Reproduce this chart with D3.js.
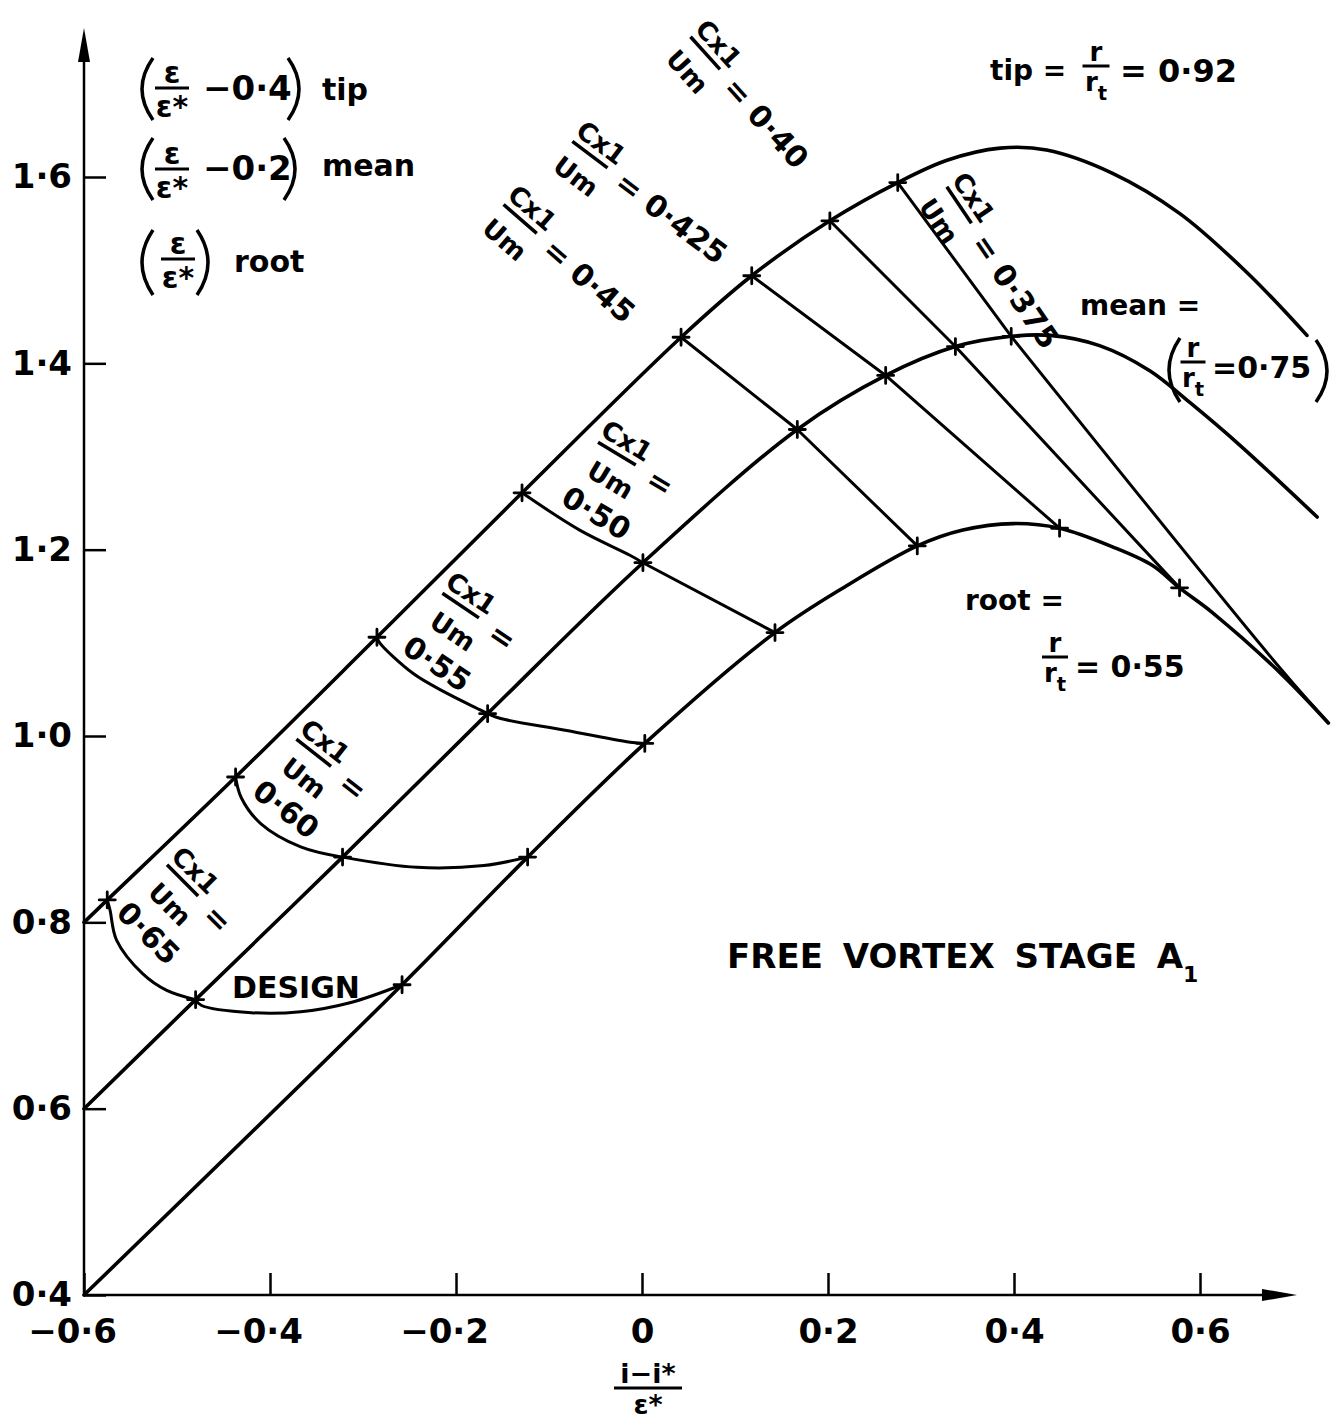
<!DOCTYPE html>
<html>
<head>
<meta charset="utf-8">
<script src="https://cdn.jsdelivr.net/npm/d3@7"></script>
<style>
body { margin: 0; background: #fff; }
svg { display: block; }
text { font-family: "DejaVu Sans", sans-serif; font-weight: bold; fill: #000; }
</style>
</head>
<body>
<svg width="1343" height="1426"></svg>
<script>
// axis ticks
const xTicks = [-0.6, -0.4, -0.2, 0, 0.2, 0.4, 0.6];
const yTicks = [0.4, 0.6, 0.8, 1.0, 1.2, 1.4, 1.6];

// the three blade sections, (i-i*)/e* against shifted e/e*
const tipCurve = [[-0.6, 0.80], [-0.575, 0.824], [-0.437, 0.956], [-0.285, 1.106], [-0.129, 1.261],
    [0.042, 1.428], [0.118, 1.494], [0.202, 1.553], [0.275, 1.594], [0.328, 1.618], [0.385, 1.631],
    [0.435, 1.629], [0.506, 1.604], [0.578, 1.561], [0.651, 1.497], [0.715, 1.430]];
const meanCurve = [[-0.6, 0.60], [-0.480, 0.717], [-0.322, 0.870], [-0.166, 1.024], [0.001, 1.186],
    [0.167, 1.329], [0.262, 1.387], [0.337, 1.418], [0.397, 1.429], [0.439, 1.430], [0.492, 1.419],
    [0.546, 1.392], [0.589, 1.358], [0.643, 1.312], [0.726, 1.235]];
const rootCurve = [[-0.6, 0.40], [-0.258, 0.733], [-0.123, 0.870], [0.003, 0.992], [0.143, 1.111],
    [0.218, 1.160], [0.296, 1.204], [0.345, 1.221], [0.399, 1.228], [0.449, 1.223], [0.506, 1.203],
    [0.549, 1.183], [0.578, 1.159], [0.614, 1.132], [0.686, 1.068], [0.738, 1.014]];

// lines of constant Cx1/Um
const cxValues = ["0·65", "0·60", "0·55", "0·50", "0·45", "0·425", "0·40", "0·375"];
const cxTip = [[-0.575, 0.824], [-0.437, 0.956], [-0.285, 1.106], [-0.129, 1.261],
    [0.042, 1.428], [0.118, 1.494], [0.202, 1.553], [0.275, 1.594]];
const cxMean = [[-0.480, 0.717], [-0.322, 0.870], [-0.166, 1.024], [0.001, 1.186],
    [0.167, 1.329], [0.262, 1.387], [0.337, 1.418], [0.397, 1.429]];
const cxRoot = [[-0.258, 0.733], [-0.123, 0.870], [0.003, 0.992], [0.143, 1.111],
    [0.296, 1.204], [0.449, 1.223], [0.578, 1.159], null];
const cxBendTipMean = [
    [[-0.572, 0.813], [-0.565, 0.781], [-0.537, 0.745], [-0.511, 0.727]],
    [[-0.431, 0.934], [-0.410, 0.906], [-0.367, 0.881]],
    [[-0.282, 1.100], [-0.246, 1.067], [-0.210, 1.046], [-0.174, 1.028]],
    [[-0.067, 1.221], [-0.013, 1.194]],
    [], [], [], []
];
const cxBendMeanRoot = [
    [[-0.474, 0.711], [-0.420, 0.703], [-0.367, 0.704], [-0.313, 0.714]],
    [[-0.242, 0.859], [-0.170, 0.861]],
    [[-0.153, 1.019], [-0.081, 1.006], [-0.010, 0.993]],
    [],
    [], [], [],
    [[0.686, 1.073], [0.738, 1.014]]
];
const cxLabelPos = [[-0.494, 0.845], [-0.353, 0.982], [-0.195, 1.140], [-0.027, 1.303],
    [-0.131, 1.555], [-0.056, 1.624], [0.068, 1.733], [0.341, 1.570]];
const cxLabelAngle = [45, 38, 34, 31, 41, 37, 48, 56];

const svg = d3.select("svg");
const x = d3.scaleLinear().domain([-0.6, 0.6]).range([84, 1200]);
const y = d3.scaleLinear().domain([0.4, 1.6]).range([1295, 177]);

const fmt = v => v === 0 ? "0" : (v < 0 ? "−" : "") + Math.abs(v).toFixed(1).replace(".", "·");

// axes
const xAxis = svg.append("g")
    .attr("transform", `translate(0,${y(0.4)})`)
    .call(d3.axisBottom(x).tickValues(xTicks).tickSize(-22).tickPadding(24).tickFormat(fmt));
xAxis.select(".domain").remove();
xAxis.selectAll(".tick line").attr("stroke-width", 2.5);
xAxis.selectAll(".tick text")
    .attr("font-size", 34)
    .attr("dx", d => d < 0 ? -12 : 0);

const yAxis = svg.append("g")
    .attr("transform", `translate(${x(-0.6)},0)`)
    .call(d3.axisLeft(y).tickValues(yTicks).tickSize(-22).tickPadding(12).tickFormat(fmt));
yAxis.select(".domain").remove();
yAxis.selectAll(".tick line").attr("stroke-width", 2.5);
yAxis.selectAll(".tick text").attr("font-size", 34);

svg.append("line")
    .attr("x1", x(-0.6)).attr("y1", y(0.4))
    .attr("x2", 1285).attr("y2", y(0.4))
    .attr("stroke", "#000").attr("stroke-width", 2.5);
svg.append("path")
    .attr("d", `M1297,${y(0.4)} L1262,${y(0.4) - 6} L1262,${y(0.4) + 6} Z`);
svg.append("line")
    .attr("x1", x(-0.6)).attr("y1", y(0.4))
    .attr("x2", x(-0.6)).attr("y2", 40)
    .attr("stroke", "#000").attr("stroke-width", 2.5);
svg.append("path")
    .attr("d", `M${x(-0.6)},28 L${x(-0.6) - 6},62 L${x(-0.6) + 6},62 Z`);

const line = d3.line()
    .x(d => x(d[0]))
    .y(d => y(d[1]))
    .curve(d3.curveCatmullRom.alpha(0.5));

const plot = svg.append("g")
    .attr("fill", "none")
    .attr("stroke", "#000")
    .attr("stroke-linecap", "round")
    .attr("stroke-linejoin", "round");

[tipCurve, meanCurve, rootCurve].forEach(c => {
    plot.append("path").datum(c).attr("d", line).attr("stroke-width", 3.6);
});

cxValues.forEach((v, i) => {
    const seg1 = [cxTip[i], ...cxBendTipMean[i], cxMean[i]];
    const seg2 = [cxMean[i], ...cxBendMeanRoot[i]];
    if (cxRoot[i]) seg2.push(cxRoot[i]);
    plot.append("path").datum(seg1).attr("d", line).attr("stroke-width", 3);
    plot.append("path").datum(seg2).attr("d", line).attr("stroke-width", 3);
});

// crosses at the measured points
const marks = cxTip.concat(cxMean, cxRoot.filter(Boolean));
plot.selectAll(".mark")
    .data(marks)
    .join("path")
    .attr("class", "mark")
    .attr("transform", d => `translate(${x(d[0])},${y(d[1])})`)
    .attr("d", "M-8,0H8M0,-8V8")
    .attr("stroke-width", 2.8);

// rotated Cx1/Um labels
function cxLabel(i) {
    const p = cxLabelPos[i];
    const stacked = i < 4;
    const g = svg.append("g")
        .attr("transform", `translate(${x(p[0])},${y(p[1])}) rotate(${cxLabelAngle[i]})`);
    g.append("text").attr("x", 2).attr("y", -7).attr("text-anchor", "middle")
        .attr("font-size", 26).text("Cx1");
    g.append("line").attr("x1", -22).attr("x2", 22).attr("y1", 0).attr("y2", 0)
        .attr("stroke", "#000").attr("stroke-width", 3.5);
    g.append("text").attr("x", stacked ? 8 : 2).attr("y", 35).attr("text-anchor", "middle")
        .attr("font-size", 26).text("Um");
    if (stacked) {
        g.append("text").attr("x", 52).attr("y", 13).attr("text-anchor", "middle")
            .attr("font-size", 30).text("=");
        g.append("text").attr("x", 13).attr("y", 72).attr("text-anchor", "middle")
            .attr("font-size", 30).text(cxValues[i]);
    } else {
        g.append("text").attr("x", 38).attr("y", 12)
            .attr("font-size", 30).text("= " + cxValues[i]);
    }
}
cxValues.forEach((v, i) => cxLabel(i));

// helpers for the stacked fractions
function paren(x0, y0, y1, dir) {
    const m = (y0 + y1) / 2;
    svg.append("path")
        .attr("d", `M${x0},${y0} Q${x0 - dir * 22},${m} ${x0},${y1}`)
        .attr("fill", "none").attr("stroke", "#000").attr("stroke-width", 3.5);
}
function frac(cx, by, num, den, sub, fs, w) {
    svg.append("text").attr("x", cx).attr("y", by - 5).attr("text-anchor", "middle")
        .attr("font-size", fs).text(num);
    svg.append("line").attr("x1", cx - w / 2).attr("x2", cx + w / 2).attr("y1", by).attr("y2", by)
        .attr("stroke", "#000").attr("stroke-width", 3);
    const t = svg.append("text").attr("x", cx).attr("y", by + fs * 0.95).attr("text-anchor", "middle")
        .attr("font-size", fs).text(den);
    if (sub) t.append("tspan").attr("font-size", fs * 0.75).attr("dy", fs * 0.35).text(sub);
}

// legend, top left
paren(153, 58, 120, 1);
frac(172, 88, "ε", "ε*", null, 30, 34);
svg.append("text").attr("x", 203).attr("y", 100).attr("font-size", 34).text("−0·4");
paren(288, 58, 120, -1);
svg.append("text").attr("x", 322).attr("y", 100).attr("font-size", 30).text("tip");

paren(153, 138, 200, 1);
frac(172, 169, "ε", "ε*", null, 30, 34);
svg.append("text").attr("x", 203).attr("y", 180).attr("font-size", 34).text("−0·2");
paren(284, 138, 200, -1);
svg.append("text").attr("x", 322).attr("y", 176).attr("font-size", 30).text("mean");

paren(153, 230, 295, 1);
frac(178, 259, "ε", "ε*", null, 30, 34);
paren(197, 230, 295, -1);
svg.append("text").attr("x", 234).attr("y", 272).attr("font-size", 30).text("root");

// section annotations
svg.append("text").attr("x", 990).attr("y", 80).attr("font-size", 28).text("tip =");
frac(1096, 66, "r", "r", "t", 26, 27);
svg.append("text").attr("x", 1120).attr("y", 82).attr("font-size", 32).text("= 0·92");

svg.append("text").attr("x", 1080).attr("y", 315).attr("font-size", 28).text("mean =");
paren(1180, 338, 402, 1);
frac(1193, 362, "r", "r", "t", 26, 25);
svg.append("text").attr("x", 1212).attr("y", 378).attr("font-size", 30).text("=0·75");
paren(1316, 340, 402, -1);

svg.append("text").attr("x", 965).attr("y", 610).attr("font-size", 28).text("root =");
frac(1055, 657, "r", "r", "t", 26, 26);
svg.append("text").attr("x", 1075).attr("y", 677).attr("font-size", 30).text("= 0·55");

svg.append("text").attr("x", 232).attr("y", 998).attr("font-size", 30).text("DESIGN");

const title = svg.append("text").attr("x", 727).attr("y", 968).attr("font-size", 34)
    .attr("word-spacing", 8).text("FREE VORTEX STAGE A");
title.append("tspan").attr("font-size", 22).attr("dy", 14).text("1");

// x axis title
frac(648, 1388, "i−i*", "ε*", null, 27, 68);
</script>
</body>
</html>
